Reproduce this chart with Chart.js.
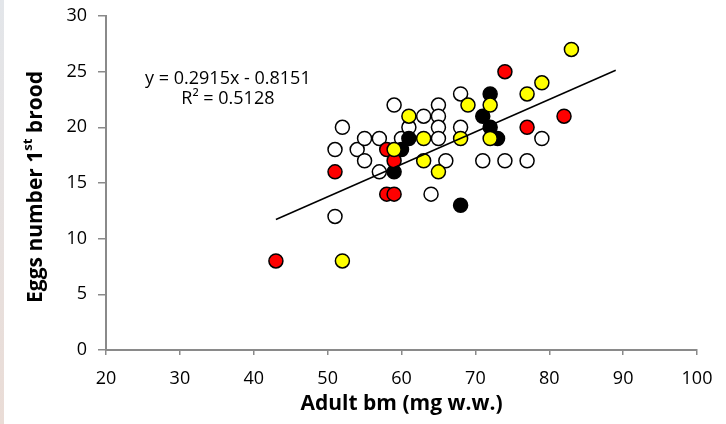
<!DOCTYPE html>
<html>
<head>
<meta charset="utf-8">
<script src="https://cdn.jsdelivr.net/npm/chart.js@4/dist/chart.umd.min.js"></script>
<style>
  html, body { margin: 0; padding: 0; background: #fff; }
  #wrap { position: relative; width: 726px; height: 424px; }
  #strip { position: absolute; left: 0; top: 0; width: 4px; height: 424px; background: linear-gradient(#e3e6ea, #eadcd6); }
  canvas { position: absolute; left: 0; top: 0; }
</style>
</head>
<body>
<div id="wrap">
  <canvas id="chart" width="726" height="424"></canvas>
  <div id="strip"></div>
</div>
<script>
// open circles
const whiteX = [51, 51, 52, 54, 55, 55, 57, 57, 59, 60, 61, 63, 65, 65, 65, 65, 66, 64, 68, 68, 71, 74, 77, 79];
const whiteY = [12, 18, 20, 18, 19, 17, 19, 16, 22, 19, 20, 21, 22, 21, 20, 19, 17, 14, 23, 20, 17, 17, 17, 19];
// black
const blackX = [59, 60, 61, 68, 72, 71, 72, 73];
const blackY = [16, 18, 19, 13, 23, 21, 20, 19];
// red
const redX = [51, 58, 59, 58, 59, 43, 74, 77, 82];
const redY = [16, 18, 17, 14, 14, 8, 25, 20, 21];
// yellow
const yellowX = [59, 61, 63, 63, 65, 69, 68, 72, 72, 77, 79, 83, 52];
const yellowY = [18, 21, 19, 17, 16, 22, 19, 22, 19, 23, 24, 27, 8];
// linear trend line ends
const trendX = [43, 89];
const trendY = [11.72, 25.13];

const eqLines = ["y = 0.2915x - 0.8151", "R\u00B2 = 0.5128"];
const eqAt = [36.5, 24.35];

function pts(xs, ys) {
  return xs.map(function (x, i) { return { x: x, y: ys[i] }; });
}

function dot(label, xs, ys, color) {
  return {
    label: label,
    data: pts(xs, ys),
    backgroundColor: color,
    borderColor: "#000",
    borderWidth: 1.5,
    pointRadius: 7,
    pointHoverRadius: 7,
  };
}

const textPlugin = {
  id: "texts",
  afterDraw(chart) {
    const ctx = chart.ctx;
    const xs = chart.scales.x, ys = chart.scales.y;
    ctx.save();
    ctx.fillStyle = "#000";
    ctx.font = '18px "Open Sans"';
    ctx.textAlign = "center";
    ctx.textBaseline = "middle";
    const ex = xs.getPixelForValue(eqAt[0]);
    const ey = ys.getPixelForValue(eqAt[1]);
    ctx.fillText(eqLines[0], ex, ey);
    ctx.fillText(eqLines[1], ex, ey + 20);

    // y axis title with superscript
    const big = 'bold 21px "Open Sans"', small = 'bold 13px "Open Sans"';
    const parts = [["Eggs number 1", big, 0], ["st", small, -8], [" brood", big, 0]];
    let w = 0;
    parts.forEach(function (p) { ctx.font = p[1]; w += ctx.measureText(p[0]).width; });
    ctx.translate(36, 187);
    ctx.rotate(-Math.PI / 2);
    ctx.textAlign = "left";
    ctx.textBaseline = "middle";
    let cx = -w / 2;
    parts.forEach(function (p) {
      ctx.font = p[1];
      ctx.fillText(p[0], cx, p[2]);
      cx += ctx.measureText(p[0]).width;
    });
    ctx.restore();
  }
};

const axisGrey = "#8a8a8a";

new Chart(document.getElementById("chart").getContext("2d"), {
  type: "scatter",
  data: {
    datasets: [
      {
        label: "trend",
        data: pts(trendX, trendY),
        showLine: true,
        borderColor: "#000",
        borderWidth: 1.5,
        pointRadius: 0,
        fill: false,
      },
      dot("yellow", yellowX, yellowY, "#ffff00"),
      dot("red", redX, redY, "#ff0000"),
      dot("black", blackX, blackY, "#000000"),
      dot("white", whiteX, whiteY, "#ffffff"),
    ],
  },
  options: {
    responsive: false,
    animation: false,
    layout: { padding: { top: 16, right: 29, left: 0, bottom: 0 } },
    plugins: { legend: { display: false }, tooltip: { enabled: false } },
    scales: {
      x: {
        type: "linear",
        min: 20,
        max: 100,
        ticks: { stepSize: 10, color: "#000", font: { family: "Open Sans", size: 18 }, padding: 13 },
        grid: { drawOnChartArea: false, drawTicks: true, tickLength: 5, color: axisGrey, lineWidth: 1.5 },
        border: { color: axisGrey, width: 2 },
        title: {
          display: true,
          text: "Adult bm (mg w.w.)",
          color: "#000",
          font: { family: "Open Sans", size: 21, weight: "bold" },
          padding: { top: 0, bottom: 7 },
        },
        afterFit(s) { s.height = 74; s.paddingLeft = 0; s.paddingRight = 0; },
      },
      y: {
        type: "linear",
        min: 0,
        max: 30,
        ticks: { stepSize: 5, color: "#000", font: { family: "Open Sans", size: 18 }, padding: 11 },
        grid: { drawOnChartArea: false, drawTicks: true, tickLength: 8, color: axisGrey, lineWidth: 1.5 },
        border: { color: axisGrey, width: 2 },
        afterFit(s) { s.width = 106; s.paddingTop = 0; s.paddingBottom = 0; },
      },
    },
  },
  plugins: [textPlugin],
});
</script>
</body>
</html>
